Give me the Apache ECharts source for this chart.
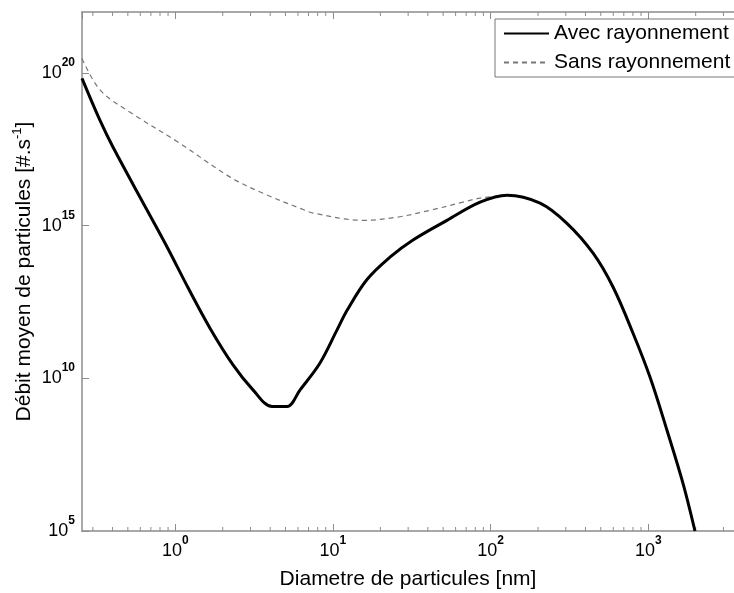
<!DOCTYPE html>
<html>
<head>
<meta charset="utf-8">
<script src="https://cdn.jsdelivr.net/npm/echarts@6/dist/echarts.min.js"></script>
<style>
  html, body { margin: 0; padding: 0; background: #fff; }
  #main { width: 734px; height: 593px; }
</style>
</head>
<body>
<div id="main"></div>
<script>
// particle diameter [nm] and mean flow [#/s]
var avecDiam = [0.256, 0.333, 0.403, 0.663, 0.887, 1.21, 1.66, 2.33, 3.11, 4.11, 5.12, 6.19, 8.28, 10.6, 12.3, 16.4, 23.0, 32.2, 52.9, 85.8, 127, 206, 305, 447, 598, 801, 1026, 1315, 1660, 1979];
var avecFlow = [6.7e19, 2.8e18, 3.7e17, 3.2e15, 2.0e14, 8.9e12, 4.4e11, 2.7e10, 4.2e9, 1.2e9, 1.2e9, 4.2e9, 3.2e10, 3.8e11, 1.7e12, 1.7e13, 9.3e13, 3.4e14, 1.5e15, 5.9e15, 1.0e16, 5.5e15, 1.2e15, 1.26e14, 9.8e12, 3.0e11, 1.1e10, 2.0e8, 3.7e6, 1e5];

var sansDiam = [0.256, 0.333, 0.517, 1.07, 2.23, 3.60, 6.19, 7.48, 15.5, 25.5, 41.3, 66.8, 85.8, 127];
var sansFlow = [3.0e20, 2.8e19, 5.2e18, 5.0e17, 3.9e16, 1.15e16, 3.7e15, 2.6e15, 1.5e15, 1.9e15, 3.2e15, 5.9e15, 8.0e15, 1.0e16];

var xMin = 0.256, xMax = 3500;
var yMin = 1e5, yMax = 1e22;
var xDecades = [0.1, 1, 10, 100, 1000];
var minorSteps = [2, 3, 4, 5, 6, 7, 8, 9];

var FONT = '"Liberation Sans", Arial, Helvetica, sans-serif';
var AXIS_COLOR = '#8c8c8c';

function zip(xs, ys) {
  return xs.map(function (x, i) { return [x, ys[i]]; });
}

var minorTicks = [];
xDecades.forEach(function (d) {
  minorSteps.forEach(function (m) {
    var v = d * m;
    if (v > xMin && v < xMax) minorTicks.push([v, yMin]);
  });
});

function powLabel(v) {
  var e = Math.round(Math.log10(v));
  return '{b|10}{s|' + e + '}';
}

var labelRich = {
  b: { fontSize: 18, lineHeight: 20, color: '#000', fontFamily: FONT },
  s: { fontSize: 12, lineHeight: 12, color: '#000', fontFamily: FONT, fontWeight: 'bold', padding: [0, 0, 21, 0] }
};

var chart = echarts.init(document.getElementById('main'));
chart.setOption({
  animation: false,
  backgroundColor: '#fff',
  grid: { left: 82, right: 0, top: 12, bottom: 62, outerBoundsMode: 'none' },
  legend: {
    orient: 'vertical',
    left: 495,
    top: 19,
    data: ['Avec rayonnement', 'Sans rayonnement'],
    itemWidth: 45,
    itemHeight: 2,
    itemGap: 8,
    padding: [4, 20, 4, 8],
    borderColor: '#777',
    borderWidth: 1,
    borderRadius: 0,
    backgroundColor: '#fff',
    itemStyle: { opacity: 0 },
    textStyle: { fontSize: 21, lineHeight: 20, color: '#000', fontFamily: FONT },
    selectedMode: false
  },
  xAxis: [{
    type: 'log',
    min: xMin,
    max: xMax,
    name: 'Diametre de particules [nm]',
    nameLocation: 'middle',
    nameGap: 38,
    nameMoveOverlap: false,
    nameTextStyle: { fontSize: 21, color: '#000', fontFamily: FONT },
    axisLine: { lineStyle: { color: AXIS_COLOR, width: 1.5 } },
    axisTick: { inside: true, length: 7, lineStyle: { color: AXIS_COLOR } },
    splitLine: { show: false },
    axisLabel: {
      formatter: powLabel, rich: labelRich, margin: 10,
      showMinLabel: false, showMaxLabel: false
    }
  }, {
    type: 'log',
    position: 'top',
    min: xMin,
    max: xMax,
    axisLine: { lineStyle: { color: AXIS_COLOR, width: 1.5 } },
    axisTick: { inside: true, length: 7, lineStyle: { color: AXIS_COLOR } },
    splitLine: { show: false },
    axisLabel: { show: false }
  }],
  yAxis: {
    type: 'log',
    logBase: 100000,
    min: yMin,
    max: yMax,
    name: '{a|Débit moyen de particules [#.s}{s|-1}{a|]}',
    nameLocation: 'middle',
    nameGap: 46,
    nameMoveOverlap: false,
    nameTextStyle: {
      rich: {
        a: { fontSize: 21, lineHeight: 23, color: '#000', fontFamily: FONT },
        s: { fontSize: 13, lineHeight: 13, color: '#000', fontFamily: FONT, padding: [0, 0, 14, 0] }
      }
    },
    axisLine: { lineStyle: { color: AXIS_COLOR, width: 1.5 } },
    axisTick: { inside: true, length: 7, lineStyle: { color: AXIS_COLOR } },
    splitLine: { show: false },
    axisLabel: {
      formatter: powLabel, rich: labelRich, margin: 7,
      showMaxLabel: false
    }
  },
  series: [{
    name: 'Minor ticks',
    type: 'custom',
    silent: true,
    clip: false,
    data: minorTicks,
    renderItem: function (params, api) {
      var x = api.value(0);
      var b = api.coord([x, yMin]);
      var t = api.coord([x, yMax]);
      var st = { stroke: AXIS_COLOR, lineWidth: 1 };
      return {
        type: 'group',
        children: [
          { type: 'line', shape: { x1: b[0], y1: b[1], x2: b[0], y2: b[1] - 4 }, style: st },
          { type: 'line', shape: { x1: t[0], y1: t[1], x2: t[0], y2: t[1] + 4 }, style: st }
        ]
      };
    }
  }, {
    name: 'Sans rayonnement',
    type: 'line',
    data: zip(sansDiam, sansFlow),
    symbol: 'none',
    smooth: 0.35,
    lineStyle: { color: '#777', width: 1.2, type: [5, 4] },
    itemStyle: { color: '#777' },
    emphasis: { disabled: true },
    z: 2
  }, {
    name: 'Avec rayonnement',
    type: 'line',
    data: zip(avecDiam, avecFlow),
    symbol: 'none',
    smooth: 0.35,
    lineStyle: { color: '#000', width: 3 },
    itemStyle: { color: '#000' },
    emphasis: { disabled: true },
    z: 3
  }]
});
</script>
</body>
</html>
